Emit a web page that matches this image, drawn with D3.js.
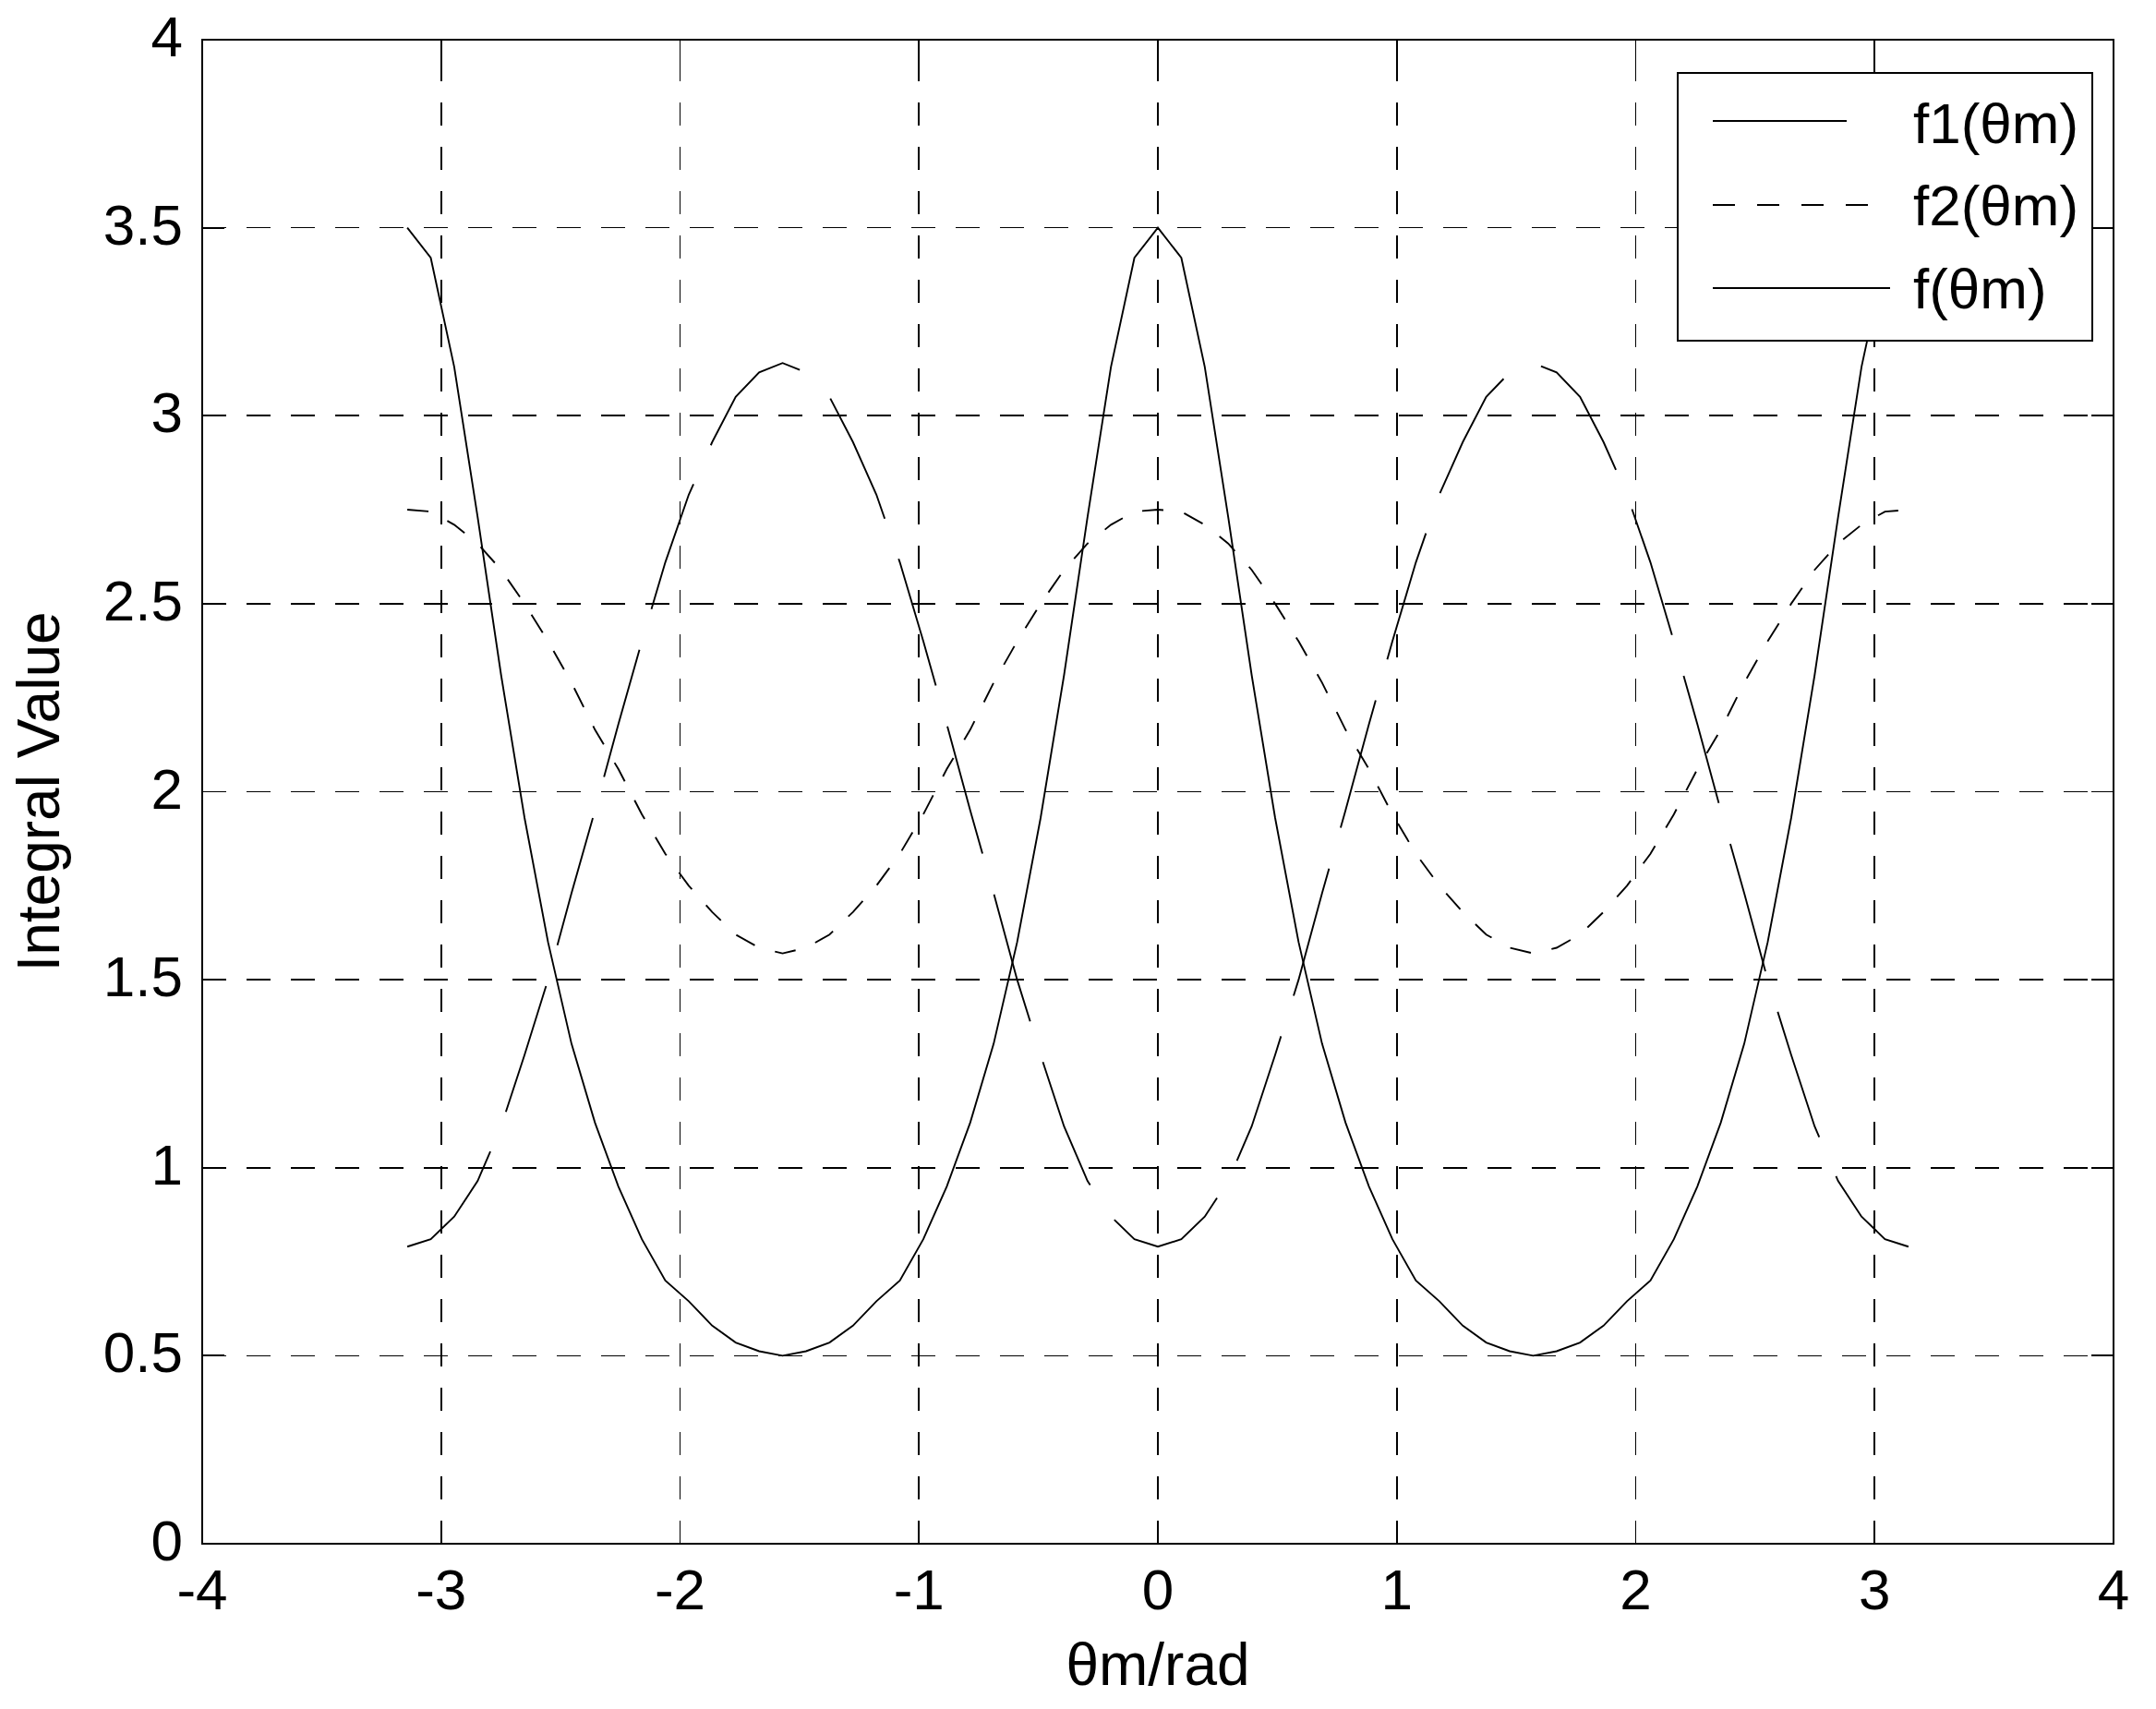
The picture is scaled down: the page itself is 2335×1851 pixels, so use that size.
<!DOCTYPE html>
<html>
<head>
<meta charset="utf-8">
<script src="https://cdn.jsdelivr.net/npm/d3@7"></script>
<style>
  html, body { margin: 0; padding: 0; background: #fff; }
  svg { display: block; }
  text { font-family: "Liberation Sans", Arial, sans-serif; fill: #000; }
</style>
</head>
<body>
<svg id="chart" width="2335" height="1851"></svg>
<script>
// ---- data ----
const theta = [-3.1416, -3.0434, -2.9452, -2.8471, -2.7489, -2.6507, -2.5525, -2.4544, -2.3562, -2.2580,
  -2.1598, -2.0617, -1.9635, -1.8653, -1.7671, -1.6690, -1.5708, -1.4726, -1.3744, -1.2763,
  -1.1781, -1.0799, -0.9817, -0.8836, -0.7854, -0.6872, -0.5890, -0.4909, -0.3927, -0.2945,
  -0.1963, -0.0982, 0.0000, 0.0982, 0.1963, 0.2945, 0.3927, 0.4909, 0.5890, 0.6872,
  0.7854, 0.8836, 0.9817, 1.0799, 1.1781, 1.2763, 1.3744, 1.4726, 1.5708, 1.6690,
  1.7671, 1.8653, 1.9635, 2.0617, 2.1598, 2.2580, 2.3562, 2.4544, 2.5525, 2.6507,
  2.7489, 2.8471, 2.9452, 3.0434, 3.1416];

const f1Values = [3.50, 3.42, 3.13, 2.73, 2.31, 1.93, 1.60, 1.33, 1.12, 0.95,
  0.81, 0.70, 0.645, 0.58, 0.535, 0.512, 0.50, 0.512, 0.535, 0.58,
  0.645, 0.70, 0.81, 0.95, 1.12, 1.33, 1.60, 1.93, 2.31, 2.73,
  3.13, 3.42, 3.50, 3.42, 3.13, 2.73, 2.31, 1.93, 1.60, 1.33,
  1.12, 0.95, 0.81, 0.70, 0.645, 0.58, 0.535, 0.512, 0.50, 0.512,
  0.535, 0.58, 0.645, 0.70, 0.81, 0.95, 1.12, 1.33, 1.60, 1.93,
  2.31, 2.73, 3.13, 3.42, 3.50];

const f2Values = [2.75, 2.745, 2.71, 2.66, 2.59, 2.50, 2.40, 2.29, 2.165, 2.06,
  1.94, 1.835, 1.75, 1.68, 1.62, 1.585, 1.57, 1.585, 1.62, 1.68,
  1.75, 1.835, 1.94, 2.06, 2.165, 2.29, 2.40, 2.50, 2.59, 2.66,
  2.71, 2.745, 2.75, 2.745, 2.71, 2.66, 2.59, 2.50, 2.40, 2.29,
  2.165, 2.06, 1.94, 1.835, 1.75, 1.68, 1.62, 1.585, 1.57, 1.585,
  1.62, 1.68, 1.75, 1.835, 1.94, 2.06, 2.165, 2.29, 2.40, 2.50,
  2.59, 2.66, 2.71, 2.745, 2.75];

const fValues = [0.79, 0.81, 0.87, 0.965, 1.11, 1.30, 1.50, 1.73, 1.95, 2.18,
  2.40, 2.61, 2.79, 2.93, 3.05, 3.115, 3.14, 3.115, 3.05, 2.93,
  2.79, 2.61, 2.40, 2.18, 1.95, 1.73, 1.50, 1.30, 1.11, 0.965,
  0.87, 0.81, 0.79, 0.81, 0.87, 0.965, 1.11, 1.30, 1.50, 1.73,
  1.95, 2.18, 2.40, 2.61, 2.79, 2.93, 3.05, 3.115, 3.14, 3.115,
  3.05, 2.93, 2.79, 2.61, 2.40, 2.18, 1.95, 1.73, 1.50, 1.30,
  1.11, 0.965, 0.87, 0.81, 0.79];

const xTicks = [-4, -3, -2, -1, 0, 1, 2, 3, 4];
const yTicks = [0, 0.5, 1, 1.5, 2, 2.5, 3, 3.5, 4];
const legendLabels = ["f1(\u03b8m)", "f2(\u03b8m)", "f(\u03b8m)"];
const xLabel = "\u03b8m/rad";
const yLabel = "Integral Value";

// ---- layout ----
const svg = d3.select("#chart");
const L = 219, R = 2289, T = 43, B = 1672;
const x = d3.scaleLinear().domain([-4, 4]).range([L, R]);
const y = d3.scaleLinear().domain([0, 4]).range([B, T]);
const FS = 62;

svg.append("rect").attr("width", 2335).attr("height", 1851).attr("fill", "#fff");

// grid
const grid = svg.append("g").attr("stroke", "#000").attr("stroke-width", 1.6)
  .attr("stroke-dasharray", "25.5,22.5").attr("fill", "none").attr("shape-rendering", "crispEdges");
xTicks.filter(d => d > -4 && d < 4).forEach(d => {
  grid.append("line").attr("x1", x(d)).attr("x2", x(d)).attr("y1", B).attr("y2", T);
});
yTicks.filter(d => d > 0 && d < 4).forEach(d => {
  grid.append("line").attr("x1", L).attr("x2", R).attr("y1", y(d)).attr("y2", y(d));
});

// curves
const series = [
  { vals: f1Values, dash: null },
  { vals: f2Values, dash: "23,23" },
  { vals: fValues, dash: "143,46" }
];
const line = d3.line().x(d => x(d[0])).y(d => y(d[1]));
series.forEach(s => {
  const pts = theta.map((t, i) => [t, s.vals[i]]);
  const p = svg.append("path").datum(pts).attr("d", line)
    .attr("fill", "none").attr("stroke", "#000").attr("stroke-width", 1.9)
    .attr("stroke-linejoin", "miter");
  if (s.dash) p.attr("stroke-dasharray", s.dash);
});

// frame
svg.append("rect").attr("x", L).attr("y", T).attr("width", R - L).attr("height", B - T)
  .attr("fill", "none").attr("stroke", "#000").attr("stroke-width", 1.8)
  .attr("shape-rendering", "crispEdges");

// ticks (inward on all sides)
const TL = 24;
const ticks = svg.append("g").attr("stroke", "#000").attr("stroke-width", 1.8)
  .attr("shape-rendering", "crispEdges");
xTicks.forEach(d => {
  ticks.append("line").attr("x1", x(d)).attr("x2", x(d)).attr("y1", B).attr("y2", B - TL);
  ticks.append("line").attr("x1", x(d)).attr("x2", x(d)).attr("y1", T).attr("y2", T + TL);
});
yTicks.forEach(d => {
  ticks.append("line").attr("x1", L).attr("x2", L + TL).attr("y1", y(d)).attr("y2", y(d));
  ticks.append("line").attr("x1", R).attr("x2", R - TL).attr("y1", y(d)).attr("y2", y(d));
});

// tick labels
const fmt = d => String(d);
svg.append("g").selectAll("text").data(xTicks).join("text")
  .attr("x", d => x(d)).attr("y", 1743).attr("text-anchor", "middle")
  .attr("font-size", FS).text(fmt);
svg.append("g").selectAll("text").data(yTicks).join("text")
  .attr("x", 198).attr("y", d => y(d) + 18).attr("text-anchor", "end")
  .attr("font-size", FS).text(fmt);

// axis labels
svg.append("text").attr("x", (L + R) / 2).attr("y", 1825).attr("text-anchor", "middle")
  .attr("font-size", 64).text(xLabel);
svg.append("text").attr("transform", `translate(64,${(T + B) / 2}) rotate(-90)`)
  .attr("text-anchor", "middle").attr("font-size", 64).text(yLabel);

// legend
const lg = svg.append("g");
lg.append("rect").attr("x", 1817).attr("y", 79).attr("width", 449).attr("height", 290)
  .attr("fill", "#fff").attr("stroke", "#000").attr("stroke-width", 1.8)
  .attr("shape-rendering", "crispEdges");
const legRows = [
  { y: 131, x2: 2000, dash: null, base: 155 },
  { y: 222, x2: 2023, dash: "24,24", base: 244 },
  { y: 312, x2: 2047, dash: null, base: 334 }
];
legRows.forEach((r, i) => {
  const ln = lg.append("line").attr("x1", 1855).attr("x2", r.x2).attr("y1", r.y).attr("y2", r.y)
    .attr("stroke", "#000").attr("stroke-width", 1.8).attr("shape-rendering", "crispEdges");
  if (r.dash) ln.attr("stroke-dasharray", r.dash);
  lg.append("text").attr("x", 2072).attr("y", r.base).attr("font-size", FS).text(legendLabels[i]);
});
</script>
</body>
</html>
